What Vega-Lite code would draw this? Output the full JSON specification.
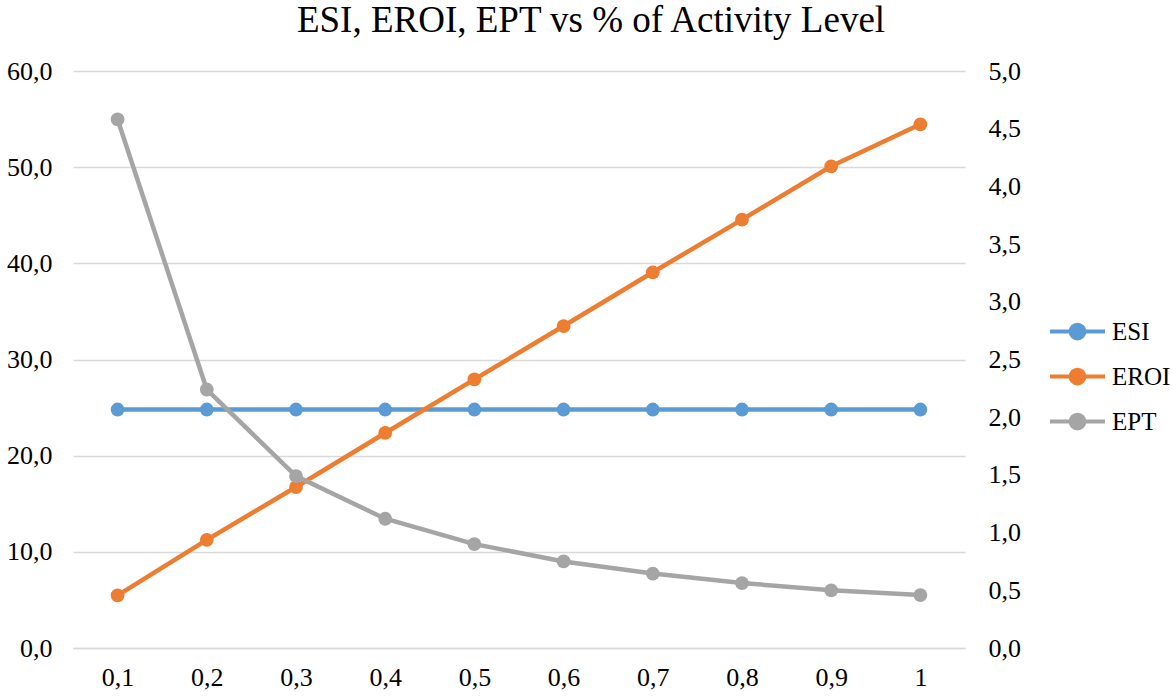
{
  "$schema": "https://vega.github.io/schema/vega-lite/v6.json",
  "width": 892,
  "height": 577,
  "autosize": {"type": "none"},
  "padding": {"left": 73, "top": 71, "right": 207, "bottom": 50},
  "background": "white",
  "title": {
    "text": "ESI, EROI, EPT vs % of Activity Level",
    "font": "Liberation Serif",
    "fontSize": 37,
    "fontWeight": "normal",
    "color": "#000000",
    "anchor": "middle",
    "frame": "group",
    "dx": 72,
    "dy": 41,
    "baseline": "bottom",
    "offset": 22
  },
  "data": {
    "values": [
      {"x": "0,1", "series": "ESI", "value": 24.8},
      {"x": "0,2", "series": "ESI", "value": 24.8},
      {"x": "0,3", "series": "ESI", "value": 24.8},
      {"x": "0,4", "series": "ESI", "value": 24.8},
      {"x": "0,5", "series": "ESI", "value": 24.8},
      {"x": "0,6", "series": "ESI", "value": 24.8},
      {"x": "0,7", "series": "ESI", "value": 24.8},
      {"x": "0,8", "series": "ESI", "value": 24.8},
      {"x": "0,9", "series": "ESI", "value": 24.8},
      {"x": "1", "series": "ESI", "value": 24.8},
      {"x": "0,1", "series": "EROI", "value": 5.48},
      {"x": "0,2", "series": "EROI", "value": 11.25},
      {"x": "0,3", "series": "EROI", "value": 16.74},
      {"x": "0,4", "series": "EROI", "value": 22.36},
      {"x": "0,5", "series": "EROI", "value": 27.94},
      {"x": "0,6", "series": "EROI", "value": 33.48},
      {"x": "0,7", "series": "EROI", "value": 39.07},
      {"x": "0,8", "series": "EROI", "value": 44.55},
      {"x": "0,9", "series": "EROI", "value": 50.09},
      {"x": "1", "series": "EROI", "value": 54.46},
      {"x": "0,1", "series": "EPT", "value": 4.58},
      {"x": "0,2", "series": "EPT", "value": 2.24},
      {"x": "0,3", "series": "EPT", "value": 1.49},
      {"x": "0,4", "series": "EPT", "value": 1.12},
      {"x": "0,5", "series": "EPT", "value": 0.9},
      {"x": "0,6", "series": "EPT", "value": 0.75},
      {"x": "0,7", "series": "EPT", "value": 0.645},
      {"x": "0,8", "series": "EPT", "value": 0.563},
      {"x": "0,9", "series": "EPT", "value": 0.5},
      {"x": "1", "series": "EPT", "value": 0.459}
    ]
  },
  "encoding": {
    "x": {
      "field": "x",
      "type": "ordinal",
      "sort": null,
      "scale": {"type": "point", "padding": 0.5},
      "axis": {
        "title": null,
        "labelAngle": 0,
        "domain": true,
        "domainColor": "#D9D9D9",
        "domainWidth": 1.3,
        "ticks": false,
        "tickSize": 0,
        "grid": false,
        "labelPadding": 16,
        "labelFont": "Liberation Serif",
        "labelFontSize": 26,
        "labelColor": "#000000"
      }
    },
    "color": {
      "field": "series",
      "type": "nominal",
      "scale": {"domain": ["ESI", "EROI", "EPT"], "range": ["#5B9BD5", "#ED7D31", "#A5A5A5"]},
      "legend": {
        "title": null,
        "orient": "none",
        "legendX": 975,
        "legendY": 231,
        "symbolType": "M-1,0L1,0M0.25,0A0.25,0.25,0,1,1,-0.25,0A0.25,0.25,0,1,1,0.25,0Z",
        "symbolSize": 3025,
        "symbolStrokeWidth": 4,
        "labelFont": "Liberation Serif",
        "labelFontSize": 25,
        "labelColor": "#000000",
        "labelOffset": 5,
        "rowPadding": -15,
        "encode": {
          "symbols": {
            "update": {
              "fill": {"scale": "color", "field": "value"},
              "stroke": {"scale": "color", "field": "value"},
              "opacity": {"value": 1}
            }
          }
        }
      }
    }
  },
  "layer": [
    {
      "transform": [{"filter": "datum.series === 'ESI'"}],
      "mark": {"type": "line", "strokeWidth": 4.5, "strokeCap": "round", "point": {"filled": true, "size": 190, "opacity": 1}},
      "encoding": {
        "y": {
          "field": "value",
          "type": "quantitative",
          "scale": {"domain": [0, 60], "nice": false, "zero": true},
          "axis": {
            "orient": "left",
            "title": null,
            "values": [0, 10, 20, 30, 40, 50, 60],
            "labelExpr": "replace(format(datum.value, '.1f'), '.', ',')",
            "domain": false,
            "ticks": false,
            "tickSize": 0,
            "labelPadding": 21,
            "labelFont": "Liberation Serif",
            "labelFontSize": 26,
            "labelColor": "#000000",
            "grid": true,
            "gridColor": "#D9D9D9",
            "gridWidth": 1.3
          }
        }
      }
    },
    {
      "transform": [{"filter": "datum.series === 'EROI'"}],
      "mark": {"type": "line", "strokeWidth": 4.5, "strokeCap": "round", "point": {"filled": true, "size": 190, "opacity": 1}},
      "encoding": {
        "y": {
          "field": "value",
          "type": "quantitative",
          "scale": {"domain": [0, 60], "nice": false, "zero": true},
          "axis": null
        }
      }
    },
    {
      "transform": [{"filter": "datum.series === 'EPT'"}],
      "mark": {"type": "line", "strokeWidth": 4.5, "strokeCap": "round", "point": {"filled": true, "size": 190, "opacity": 1}},
      "encoding": {
        "y": {
          "field": "value",
          "type": "quantitative",
          "scale": {"domain": [0, 5], "nice": false, "zero": true},
          "axis": {
            "orient": "right",
            "title": null,
            "values": [0, 0.5, 1, 1.5, 2, 2.5, 3, 3.5, 4, 4.5, 5],
            "labelExpr": "replace(format(datum.value, '.1f'), '.', ',')",
            "domain": false,
            "ticks": false,
            "tickSize": 0,
            "labelPadding": 23,
            "labelFont": "Liberation Serif",
            "labelFontSize": 26,
            "labelColor": "#000000",
            "grid": false
          }
        }
      }
    }
  ],
  "resolve": {"scale": {"y": "independent"}},
  "config": {"view": {"stroke": null}}
}
